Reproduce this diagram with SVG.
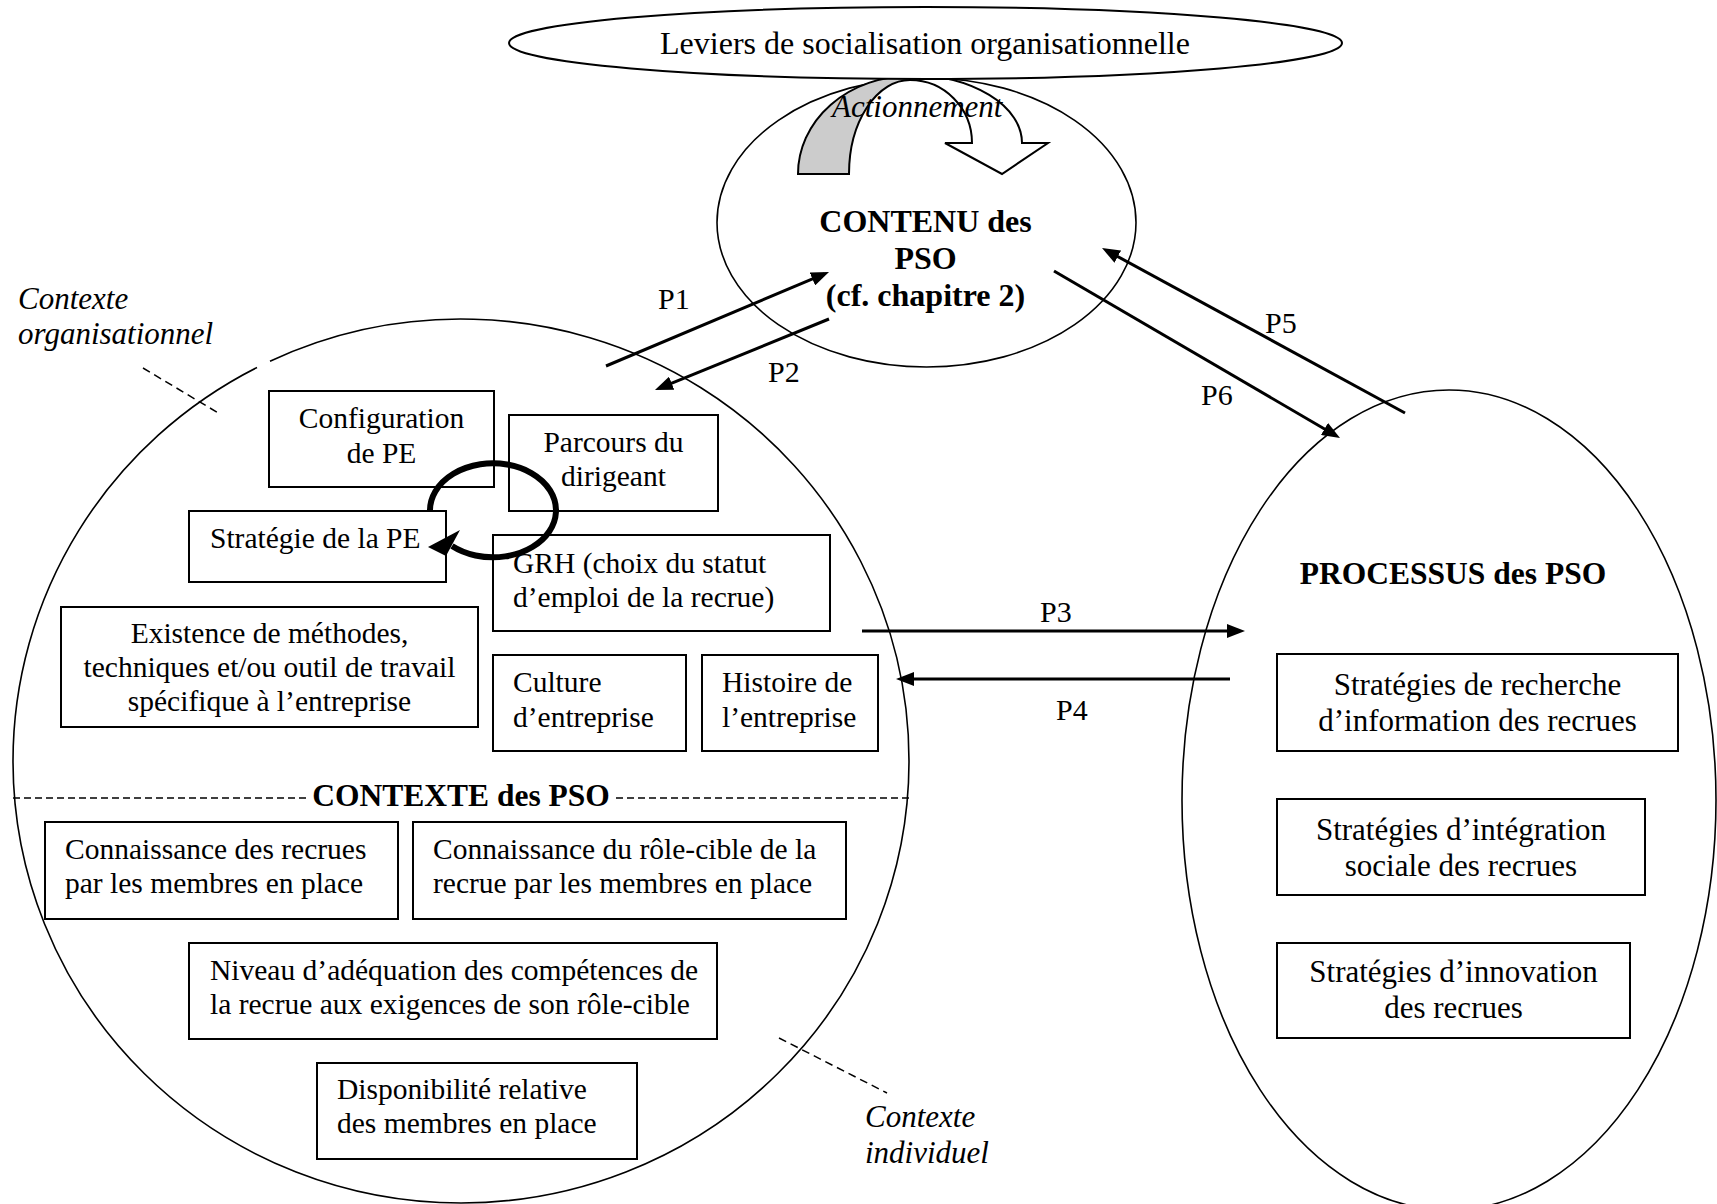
<svg xmlns="http://www.w3.org/2000/svg" width="1717" height="1204" viewBox="0 0 1717 1204">
<defs>
<style>
text{font-family:"Liberation Serif","Times New Roman",serif;fill:#000}
.box{fill:#fff;stroke:#000;stroke-width:2}
.t{font-size:29.5px}
.tr{font-size:31px}
.c{text-anchor:middle}
.it{font-style:italic;font-size:31px}
.b{font-weight:bold}
.ring{fill:none;stroke:#000;stroke-width:1.6}
.arr{stroke:#000;stroke-width:3;fill:none;marker-end:url(#ah)}
.dash{stroke:#000;stroke-width:1.5;stroke-dasharray:7 4;fill:none}
.lbl{font-size:30px}
</style>
<marker id="ah" markerUnits="userSpaceOnUse" markerWidth="18" markerHeight="14" refX="13" refY="7" orient="auto">
<path d="M0,0 L18,7 L0,14 Z" fill="#000"/>
</marker>
</defs>
<rect width="1717" height="1204" fill="#fff"/>

<!-- large context circle, open near the top-left -->
<g id="contexte">
<path class="ring" d="M270,361.18 A448,442 0 0 1 909,761 A448,442 0 0 1 13,761 A448,442 0 0 1 257,367.48"/>
<line class="dash" x1="13" y1="798" x2="308" y2="798"/>
<line class="dash" x1="616" y1="798" x2="909" y2="798"/>
<text class="b c" x="461" y="806" font-size="31.5">CONTEXTE des PSO</text>
</g>

<g id="label-organisationnel">
<text class="it" x="18" y="309">Contexte</text>
<text class="it" x="18" y="344">organisationnel</text>
<line class="dash" x1="143" y1="368" x2="220" y2="414" style="stroke-dasharray:8 5"/>
</g>

<g id="label-individuel">
<text class="it" x="865" y="1127">Contexte</text>
<text class="it" x="865" y="1163">individuel</text>
<line class="dash" x1="779" y1="1038" x2="887" y2="1093" style="stroke-dasharray:8 5"/>
</g>

<!-- process ellipse on the right -->
<g id="processus">
<ellipse class="ring" cx="1449" cy="800" rx="267" ry="410"/>
<text class="b c" x="1453" y="584" font-size="31.5px">PROCESSUS des PSO</text>
</g>

<!-- content ellipse -->
<g id="contenu">
<ellipse class="ring" cx="926.5" cy="222.5" rx="209.5" ry="144.5"/>
<text class="b c" x="925.5" y="232" font-size="32px">CONTENU des</text>
<text class="b c" x="925.5" y="269" font-size="32px">PSO</text>
<text class="b c" x="925.5" y="306" font-size="32px">(cf. chapitre 2)</text>
</g>

<!-- curved block arrow under the levers ellipse -->
<g id="actionnement">
<path d="M798,174 A112,98 0 0 1 910,76 L910,80 A61,94 0 0 0 849,174 Z" fill="#cccccc" stroke="#000" stroke-width="2"/>
<path d="M945,143 L972,143 A62,63 0 0 0 910,80 L910,75 A112,68 0 0 1 1022,143 L1048,143 L1002,174 Z" fill="#fff" stroke="#000" stroke-width="2"/>
</g>

<g id="leviers">
<ellipse cx="925.5" cy="43" rx="416.5" ry="36" fill="#fff" stroke="#000" stroke-width="2"/>
<text class="c" x="925" y="54" font-size="32px">Leviers de socialisation organisationnelle</text>
</g>
<text class="it" x="832" y="117">Actionnement</text>

<!-- context factors -->
<g id="configuration">
<rect class="box" x="269" y="391" width="225" height="96"/>
<text class="t c" x="381.5" y="428">Configuration</text>
<text class="t c" x="381.5" y="463">de PE</text>
</g>
<g id="parcours">
<rect class="box" x="509" y="415" width="209" height="96"/>
<text class="t c" x="613.5" y="452">Parcours du</text>
<text class="t c" x="613.5" y="486">dirigeant</text>
</g>
<g id="strategie">
<rect class="box" x="189" y="511" width="257" height="71"/>
<text class="t" x="210" y="548">Stratégie de la PE</text>
</g>
<g id="grh">
<rect class="box" x="493" y="535" width="337" height="96"/>
<text class="t" x="513" y="573">GRH (choix du statut</text>
<text class="t" x="513" y="607">d’emploi de la recrue)</text>
</g>
<g id="existence">
<rect class="box" x="61" y="607" width="417" height="120"/>
<text class="t c" x="269.5" y="643">Existence de méthodes,</text>
<text class="t c" x="269.5" y="677">techniques et/ou outil de travail</text>
<text class="t c" x="269.5" y="711">spécifique à l’entreprise</text>
</g>
<g id="culture">
<rect class="box" x="493" y="655" width="193" height="96"/>
<text class="t" x="513" y="692">Culture</text>
<text class="t" x="513" y="727">d’entreprise</text>
</g>
<g id="histoire">
<rect class="box" x="702" y="655" width="176" height="96"/>
<text class="t" x="722" y="692">Histoire de</text>
<text class="t" x="722" y="727">l’entreprise</text>
</g>
<g id="connaissance-recrues">
<rect class="box" x="45" y="822" width="353" height="97"/>
<text class="t" x="65" y="859">Connaissance des recrues</text>
<text class="t" x="65" y="893">par les membres en place</text>
</g>
<g id="connaissance-role">
<rect class="box" x="413" y="822" width="433" height="97"/>
<text class="t" x="433" y="859">Connaissance du rôle-cible de la</text>
<text class="t" x="433" y="893">recrue par les membres en place</text>
</g>
<g id="niveau">
<rect class="box" x="189" y="943" width="528" height="96"/>
<text class="t" x="210" y="980">Niveau d’adéquation des compétences de</text>
<text class="t" x="210" y="1014">la recrue aux exigences de son rôle-cible</text>
</g>
<g id="disponibilite">
<rect class="box" x="317" y="1063" width="320" height="96"/>
<text class="t" x="337" y="1099">Disponibilité relative</text>
<text class="t" x="337" y="1133">des membres en place</text>
</g>

<!-- process strategies -->
<g id="recherche">
<rect class="box" x="1277" y="654" width="401" height="97"/>
<text class="tr c" x="1477.5" y="695">Stratégies de recherche</text>
<text class="tr c" x="1477.5" y="731">d’information des recrues</text>
</g>
<g id="integration">
<rect class="box" x="1277" y="799" width="368" height="96"/>
<text class="tr c" x="1461" y="840">Stratégies d’intégration</text>
<text class="tr c" x="1461" y="876">sociale des recrues</text>
</g>
<g id="innovation">
<rect class="box" x="1277" y="943" width="353" height="95"/>
<text class="tr c" x="1453.5" y="982">Stratégies d’innovation</text>
<text class="tr c" x="1453.5" y="1018">des recrues</text>
</g>

<!-- connectors -->
<g id="connectors">
<path d="M430,511 A63,47 0 1 1 452,546" fill="none" stroke="#000" stroke-width="6"/>
<polygon points="428,547 460,530 446,556" fill="#000"/>
<line class="arr" x1="606" y1="366" x2="824.4" y2="273.9"/>
<line class="arr" x1="829" y1="319" x2="659.6" y2="388.1"/>
<line class="arr" x1="1405" y1="413" x2="1106.4" y2="250.4"/>
<line class="arr" x1="1054" y1="271" x2="1335.7" y2="435.5"/>
<line class="arr" x1="862" y1="631" x2="1240" y2="631"/>
<line class="arr" x1="1230" y1="679" x2="901" y2="679"/>
<text class="lbl" x="658" y="309">P1</text>
<text class="lbl" x="768" y="382">P2</text>
<text class="lbl" x="1040" y="622">P3</text>
<text class="lbl" x="1056" y="720">P4</text>
<text class="lbl" x="1265" y="333">P5</text>
<text class="lbl" x="1201" y="405">P6</text>
</g>
</svg>
